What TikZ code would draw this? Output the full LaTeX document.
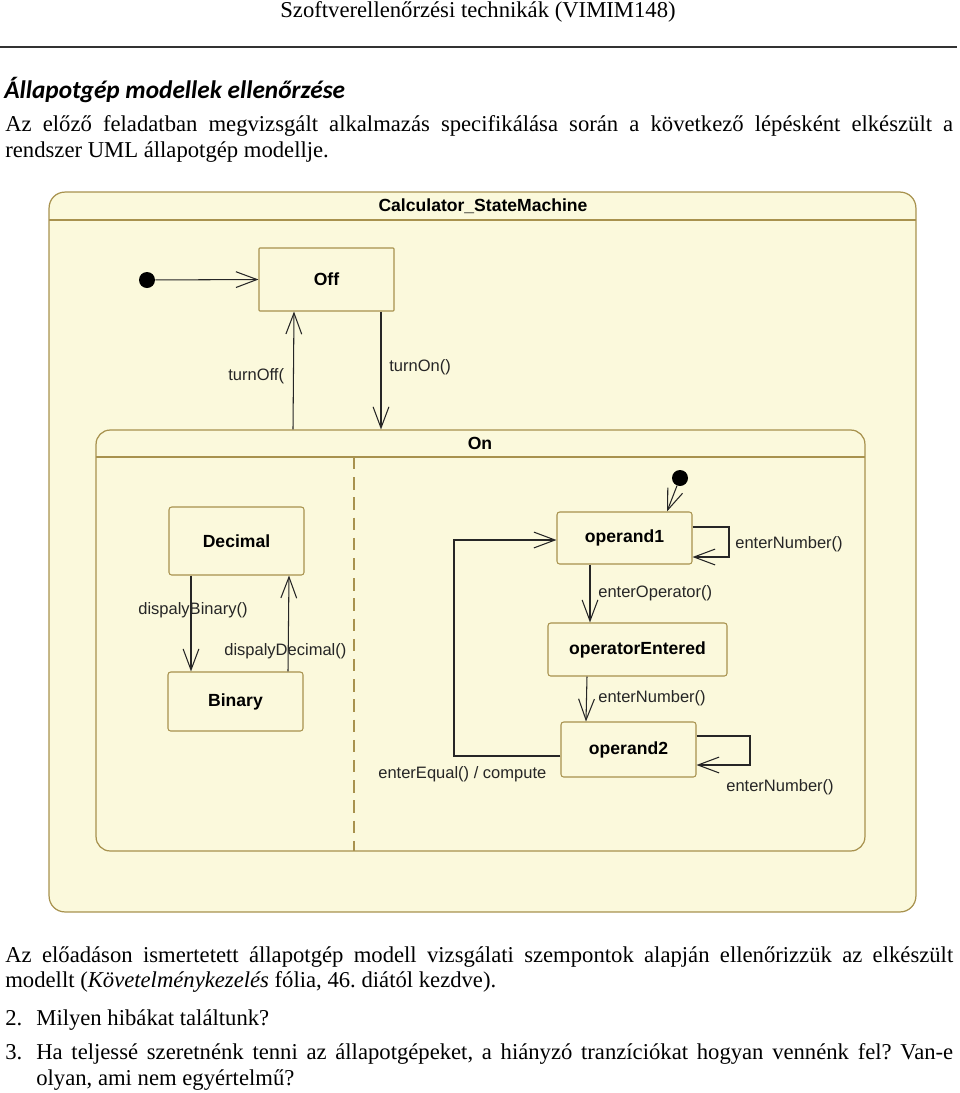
\documentclass[tikz,border=0pt]{standalone}
\usepackage{fontspec}
\setmainfont{Liberation Serif}
\setsansfont{Liberation Sans}
\newfontfamily\titlefont{Carlito}
\usetikzlibrary{arrows.meta}
\frenchspacing

\definecolor{smfill}{HTML}{FBF9DC}
\definecolor{smborder}{HTML}{A8924E}

\tikzset{
    state/.style={draw=smborder, fill=smfill, rounded corners=1.5pt, line width=0.6pt,
        font=\sffamily\bfseries\fontsize{10}{12}\selectfont, minimum width=2.7cm},
    initial/.style={circle, fill=black, inner sep=0pt, minimum size=0.32cm},
    trans/.style={draw=black!85, line width=0.6pt, -{Straight Barb[length=12pt,width=9pt]}},
    lbl/.style={anchor=west, inner sep=0pt, font=\sffamily\fontsize{9.4}{11}\selectfont, text=black!85},
    txt/.style={anchor=base west, inner sep=0pt, font=\fontsize{12.9}{15}\selectfont}
}

\begin{document}
\begin{tikzpicture}[x=0.02cm, y=-0.02cm]
\useasboundingbox (0,0) rectangle (960,1093);

% Page header and text above the diagram
\node[txt, anchor=base] (head) at (478,17) {Szoftverellen\H{o}rzési technikák (VIMIM148)};
\draw[line width=0.8pt, black!80] (0,47) -- (957,47);
\node[txt, font=\titlefont\bfseries\itshape\fontsize{14.4}{16}\selectfont] (title) at (4,98) {Állapotgép modellek ellen\H{o}rzése};
\node[txt] (par1a) at (5,131) {\makebox[18.96cm][s]{Az el\H{o}z\H{o} feladatban megvizsgált alkalmazás specifikálása során a következ\H{o} lépésként elkészült a}};
\node[txt] (par1b) at (5,157) {rendszer UML állapotgép modellje.};

% Outer state machine
\node[draw=smborder, fill=smfill, line width=0.7pt, rounded corners=9pt,
      minimum width=17.34cm, minimum height=14.4cm, inner sep=0pt] (machine) at (482.5,552) {};
\draw[smborder, line width=0.7pt] (49,220) -- (916,220);
\node[font=\sffamily\bfseries\fontsize{10}{12}\selectfont] (machinename) at (483,206) {Calculator\_StateMachine};

% Top level states
\node[initial] (init1) at (147,280) {};
\node[state, minimum height=1.26cm, rounded corners=0.5pt] (off) at (326.5,279.5) {Off};

% Composite state On
\node[draw=smborder, fill=smfill, line width=0.7pt, rounded corners=8pt,
      minimum width=15.38cm, minimum height=8.42cm, inner sep=0pt] (on) at (480.5,640.5) {};
\draw[smborder, line width=0.7pt] (96,457) -- (865,457);
\node[font=\sffamily\bfseries\fontsize{10}{12}\selectfont] (onname) at (480,443) {On};
\draw[smborder, line width=0.7pt, dash pattern=on 7pt off 4.5pt] (354,457) -- (354,851);

\draw[trans] (init1) -- (off.west);
\draw[trans] (on.north -| 293,0) -- (off.south -| 294,0);
\draw[trans] (off.south -| 381,0) -- (on.north -| 381,0);
\node[lbl] (lturnoff) at (228,376) {turnOff(};
\node[lbl] (lturnon) at (389,367) {turnOn()};

% Left region: display mode
\node[state, minimum height=1.36cm] (decimal) at (236.5,541) {Decimal};
\node[state, minimum height=1.18cm] (binary) at (235.5,701.5) {Binary};
\draw[trans] (decimal.south -| 191,0) -- (binary.north -| 191,0);
\draw[trans] (binary.north -| 288,0) -- (decimal.south -| 289,0);
\node[lbl] (lbinary) at (138,610) {dispalyBinary()};
\node[lbl] (ldecimal) at (224,651) {dispalyDecimal()};

% Right region: operands
\node[initial] (init2) at (680,478) {};
\node[state, minimum height=1.04cm] (operand1) at (624.5,538) {operand1};
\node[state, minimum width=3.58cm, minimum height=1.06cm] (opentered) at (637.5,649.5) {operatorEntered};
\node[state, minimum height=1.1cm] (operand2) at (628.5,749.5) {operand2};

\draw[trans] (init2) -- (operand1.north -| 667,0);
\draw[trans] (operand1.east |- 0,527) -- (729,527) -- (729,557) -- (operand1.east |- 0,557);
\draw[trans] (operand1.south -| 590,0) -- (opentered.north -| 590,0);
\draw[trans] (opentered.south -| 587,0) -- (operand2.north -| 586,0);
\draw[trans] (operand2.east |- 0,736) -- (750,736) -- (750,765) -- (operand2.east |- 0,765);
\draw[trans] (operand2.west |- 0,756) -- (454,756) -- (454,540) -- (operand1.west |- 0,540);

\node[lbl] (lnum1) at (735,544) {enterNumber()};
\node[lbl] (loper) at (598,593) {enterOperator()};
\node[lbl] (lnum2) at (598,698) {enterNumber()};
\node[lbl] (lnum3) at (726,787) {enterNumber()};
\node[lbl] (lequal) at (378,774) {enterEqual() / compute};

% Text below the diagram
\node[txt] (par2a) at (5,962) {\makebox[18.96cm][s]{Az el\H{o}adáson ismertetett állapotgép modell vizsgálati szempontok alapján ellen\H{o}rizzük az elkészült}};
\node[txt] (par2b) at (5,987) {modellt (\textit{Követelménykezelés} fólia, 46. diától kezdve).};
\node[txt] (q2num) at (5,1025) {2.};
\node[txt] (q2) at (36,1025) {Milyen hibákat találtunk?};
\node[txt] (q3num) at (5,1059) {3.};
\node[txt] (q3a) at (36,1059) {\makebox[18.34cm][s]{Ha teljessé szeretnénk tenni az állapotgépeket, a hiányzó tranzíciókat hogyan vennénk fel? Van-e}};
\node[txt] (q3b) at (36,1085) {olyan, ami nem egyértelm\H{u}?};

\end{tikzpicture}
\end{document}
